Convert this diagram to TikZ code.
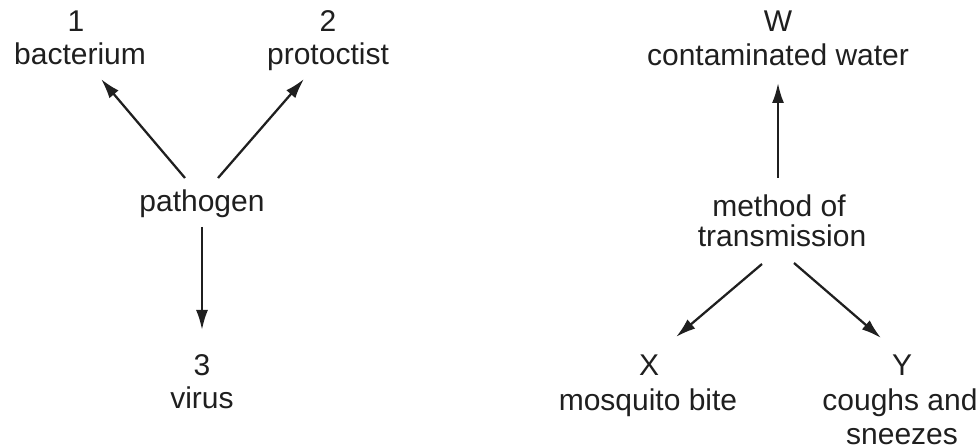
\documentclass[tikz,border=0pt]{standalone}
\usepackage{fontspec}
\setmainfont{Liberation Sans}
\usetikzlibrary{arrows.meta}
\begin{document}
\begin{tikzpicture}[x=0.75pt,y=-0.75pt,
  lbl/.style={inner sep=0pt,anchor=base,font=\fontsize{22.5}{25}\selectfont,text=black!88},
  arr/.style={line width=1.7pt,draw=black!88,-{Latex[length=15pt,width=9pt]}}]
\useasboundingbox (0,0) rectangle (980,448);
% left diagram
\node[lbl] (n1) at (76,32) {1};
\node[lbl] (bact) at (80,65) {bacterium};
\node[lbl] (n2) at (328,32) {2};
\node[lbl] (prot) at (328,65) {protoctist};
\node[lbl] (path) at (202,212) {pathogen};
\node[lbl] (n3) at (202,375) {3};
\node[lbl] (virus) at (202,408) {virus};
% right diagram
\node[lbl] (nW) at (778,32) {W};
\node[lbl] (water) at (778,66) {contaminated water};
\node[lbl] (meth) at (779,217) {method of};
\node[lbl] (trans) at (782,247) {transmission};
\node[lbl] (nX) at (649,375) {X};
\node[lbl] (mosq) at (648,410) {mosquito bite};
\node[lbl] (nY) at (902,375) {Y};
\node[lbl] (cough) at (900,410) {coughs and};
\node[lbl] (sneez) at (902,444) {sneezes};
% arrow end points
\coordinate (a1s) at (185,178); \coordinate (a1e) at (101,79);
\coordinate (a2s) at (218,178); \coordinate (a2e) at (304,79);
\coordinate (a3s) at (202,227); \coordinate (a3e) at (202,330);
\coordinate (a4s) at (778,178); \coordinate (a4e) at (778,83);
\coordinate (a5s) at (762,264); \coordinate (a5e) at (676,337);
\coordinate (a6s) at (794,263); \coordinate (a6e) at (881,338);
\draw[arr] (a1s) -- (a1e);
\draw[arr] (a2s) -- (a2e);
\draw[arr] (a3s) -- (a3e);
\draw[arr] (a4s) -- (a4e);
\draw[arr] (a5s) -- (a5e);
\draw[arr] (a6s) -- (a6e);
\end{tikzpicture}
\end{document}
